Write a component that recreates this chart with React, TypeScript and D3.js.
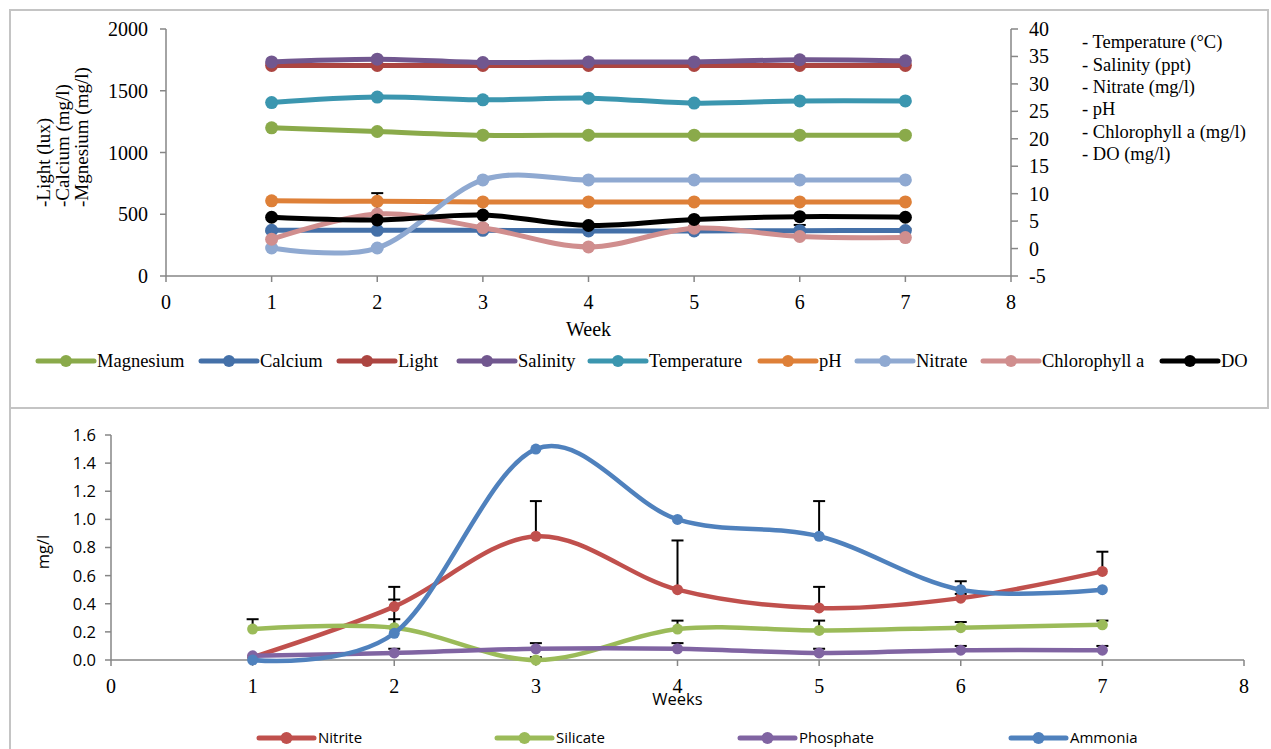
import React from "react";
import * as d3 from "d3";

// ---------- Top chart data ----------
const weeks = [1, 2, 3, 4, 5, 6, 7];
const magnesium = [1200, 1170, 1140, 1140, 1140, 1140, 1140];
const calcium = [370, 370, 370, 365, 365, 367, 368];
const light = [1705, 1705, 1705, 1705, 1705, 1705, 1705];
const salinity = [34.0, 34.5, 33.9, 34.0, 34.0, 34.4, 34.2];
const temperature = [26.6, 27.6, 27.1, 27.4, 26.5, 26.9, 26.9];
const ph = [8.7, 8.6, 8.5, 8.5, 8.5, 8.5, 8.5];
const nitrate = [0.1, 0.1, 12.5, 12.5, 12.5, 12.5, 12.5];
const chlorophyll = [1.7, 6.3, 3.8, 0.3, 3.7, 2.2, 2.0];
const chlorophyllErr = [1.4, 3.8, 0.4, 0.3, 0.3, 2.1, 1.6];
const dissolvedO2 = [5.7, 5.2, 6.1, 4.2, 5.3, 5.8, 5.7];

const topLeftTicks = [0, 500, 1000, 1500, 2000];
const topRightTicks = [-5, 0, 5, 10, 15, 20, 25, 30, 35, 40];
const xTicks = [0, 1, 2, 3, 4, 5, 6, 7, 8];
const rightNotes = [
  "- Temperature (\u00B0C)",
  "- Salinity (ppt)",
  "- Nitrate (mg/l)",
  "- pH",
  "- Chlorophyll a (mg/l)",
  "- DO (mg/l)",
];
const leftTitleLines = ["-Light (lux)", "-Calcium (mg/l)", "-Mgnesium (mg/l)"];

// ---------- Bottom chart data ----------
const nitrite = [0.02, 0.38, 0.88, 0.5, 0.37, 0.44, 0.63];
const nitriteErr = [0, 0.14, 0.25, 0.35, 0.15, 0.03, 0.14];
const silicate = [0.22, 0.23, 0.0, 0.22, 0.21, 0.23, 0.25];
const silicateErr = [0.07, 0.06, 0.02, 0.06, 0.07, 0.04, 0.03];
const phosphate = [0.03, 0.05, 0.08, 0.08, 0.05, 0.07, 0.07];
const phosphateErr = [0, 0.03, 0.04, 0.04, 0.03, 0.03, 0.03];
const ammonia = [0.0, 0.19, 1.5, 1.0, 0.88, 0.5, 0.5];
const ammoniaErr = [0, 0.24, 0, 0, 0.25, 0.06, 0];
const bottomYTicks = [0, 0.2, 0.4, 0.6, 0.8, 1.0, 1.2, 1.4, 1.6];

type Series = { name: string; values: number[]; color: string; axis: "L" | "R"; err?: number[] };

const topSeries: Series[] = [
  { name: "Magnesium", values: magnesium, color: "#8AAA4A", axis: "L" },
  { name: "Calcium", values: calcium, color: "#4470A8", axis: "L" },
  { name: "Light", values: light, color: "#AC4541", axis: "L" },
  { name: "Salinity", values: salinity, color: "#71578F", axis: "R" },
  { name: "Temperature", values: temperature, color: "#3B96AF", axis: "R" },
  { name: "pH", values: ph, color: "#DE8038", axis: "R" },
  { name: "Nitrate", values: nitrate, color: "#8FA9D1", axis: "R" },
  { name: "Chlorophyll a", values: chlorophyll, color: "#D08E8E", axis: "R", err: chlorophyllErr },
  { name: "DO", values: dissolvedO2, color: "#000000", axis: "R" },
];

const bottomSeries: Series[] = [
  { name: "Nitrite", values: nitrite, color: "#C0504D", axis: "L", err: nitriteErr },
  { name: "Silicate", values: silicate, color: "#9BBB59", axis: "L", err: silicateErr },
  { name: "Phosphate", values: phosphate, color: "#8064A2", axis: "L", err: phosphateErr },
  { name: "Ammonia", values: ammonia, color: "#4F81BD", axis: "L", err: ammoniaErr },
];

const SERIF = "'Liberation Serif', 'Times New Roman', serif";
const SANS = "'Open Sans', 'Liberation Sans', sans-serif";
const AXIS = "#868686";

export default function App() {
  // top scales
  const xT = d3.scaleLinear().domain([0, 8]).range([166, 1011]);
  const yL = d3.scaleLinear().domain([0, 2000]).range([276, 29]);
  const yR = d3.scaleLinear().domain([-5, 40]).range([276, 29]);
  // bottom scales
  const xB = d3.scaleLinear().domain([0, 8]).range([111, 1244]);
  const yB = d3.scaleLinear().domain([0, 1.6]).range([660, 435]);

  const curve = d3.curveCardinal.tension(0);

  const topLine = (s: Series) => {
    const ys = s.axis === "L" ? yL : yR;
    return d3
      .line<number>()
      .x((_, i) => xT(weeks[i]))
      .y((v) => ys(v))
      .curve(curve)(s.values) as string;
  };
  const botLine = (s: Series) =>
    d3
      .line<number>()
      .x((_, i) => xB(weeks[i]))
      .y((v) => yB(v))
      .curve(curve)(s.values) as string;

  const topLegendX = [38, 201, 339, 459, 590, 760, 857, 983, 1162];
  const botLegendX = [259, 497, 740, 1011];

  return (
    <svg
      width={1271}
      height={749}
      style={{ position: "absolute", left: 0, top: 0, background: "#fff" }}
    >
      {/* frames */}
      <rect x={10} y={10} width={1258} height={398} fill="none" stroke="#C4C4C4" strokeWidth={2} />
      <line x1={10} y1={408} x2={10} y2={749} stroke="#C4C4C4" strokeWidth={2} />

      {/* ===== TOP CHART ===== */}
      {/* axes */}
      <line x1={166} y1={29} x2={166} y2={276} stroke={AXIS} strokeWidth={1.5} />
      <line x1={166} y1={276} x2={1011} y2={276} stroke={AXIS} strokeWidth={1.5} />
      <line x1={1011} y1={29} x2={1011} y2={276} stroke={AXIS} strokeWidth={1.5} />
      {topLeftTicks.map((t) => (
        <g key={"tl" + t}>
          <line x1={160} x2={166} y1={yL(t)} y2={yL(t)} stroke={AXIS} strokeWidth={1.5} />
          <text x={148} y={yL(t)} dy="0.35em" textAnchor="end" fontFamily={SERIF} fontSize={20}>
            {t}
          </text>
        </g>
      ))}
      {topRightTicks.map((t) => (
        <g key={"tr" + t}>
          <line x1={1011} x2={1018} y1={yR(t)} y2={yR(t)} stroke={AXIS} strokeWidth={1.5} />
          <text x={1029} y={yR(t)} dy="0.35em" textAnchor="start" fontFamily={SERIF} fontSize={20}>
            {t}
          </text>
        </g>
      ))}
      {xTicks.map((t) => (
        <g key={"tx" + t}>
          <line x1={xT(t)} x2={xT(t)} y1={276} y2={282} stroke={AXIS} strokeWidth={1.5} />
          <text x={xT(t)} y={309} textAnchor="middle" fontFamily={SERIF} fontSize={20}>
            {t}
          </text>
        </g>
      ))}
      <text x={(xT(0) + xT(8)) / 2} y={336} textAnchor="middle" fontFamily={SERIF} fontSize={20}>
        Week
      </text>
      {leftTitleLines.map((l, i) => (
        <text
          key={l}
          transform={`translate(${50 + i * 19},207) rotate(-90)`}
          textAnchor="start"
          fontFamily={SERIF}
          fontSize={19}
        >
          {l}
        </text>
      ))}
      {rightNotes.map((n, i) => (
        <text key={n} x={1082} y={42 + i * 22.3} dy="0.35em" fontFamily={SERIF} fontSize={18.5}>
          {n}
        </text>
      ))}

      {/* error bars (top) */}
      {topSeries
        .filter((s) => s.err)
        .map((s) =>
          s.values.map((v, i) => {
            const ys = s.axis === "L" ? yL : yR;
            const x = xT(weeks[i]);
            const y0 = ys(v);
            const y1 = ys(v + (s.err as number[])[i]);
            return (
              <g key={s.name + "e" + i}>
                <line x1={x} x2={x} y1={y0} y2={y1} stroke="#000" strokeWidth={2} />
                <line x1={x - 6} x2={x + 6} y1={y1} y2={y1} stroke="#000" strokeWidth={2} />
              </g>
            );
          })
        )}

      {/* series (top) */}
      {topSeries.map((s) => {
        const ys = s.axis === "L" ? yL : yR;
        return (
          <g key={s.name}>
            <path d={topLine(s)} fill="none" stroke={s.color} strokeWidth={5} strokeLinecap="round" />
            {s.values.map((v, i) => (
              <circle key={i} cx={xT(weeks[i])} cy={ys(v)} r={6.5} fill={s.color} />
            ))}
          </g>
        );
      })}

      {/* legend (top) */}
      {topSeries.map((s, i) => {
        const x0 = topLegendX[i];
        return (
          <g key={"lg" + s.name}>
            <line x1={x0} x2={x0 + 56} y1={361} y2={361} stroke={s.color} strokeWidth={5} strokeLinecap="round" />
            <circle cx={x0 + 28} cy={361} r={6} fill={s.color} />
            <text x={x0 + 59} y={361} dy="0.35em" fontFamily={SERIF} fontSize={18.5}>
              {s.name}
            </text>
          </g>
        );
      })}

      {/* ===== BOTTOM CHART ===== */}
      <line x1={111} y1={435} x2={111} y2={660} stroke={AXIS} strokeWidth={1.5} />
      <line x1={111} y1={660} x2={1244} y2={660} stroke={AXIS} strokeWidth={1.5} />
      {bottomYTicks.map((t) => (
        <g key={"by" + t}>
          <line x1={105} x2={111} y1={yB(t)} y2={yB(t)} stroke={AXIS} strokeWidth={1.5} />
          <text x={96} y={yB(t)} dy="0.36em" textAnchor="end" fontFamily={SANS} fontSize={16.5}>
            {t.toFixed(1)}
          </text>
        </g>
      ))}
      {xTicks.map((t) => (
        <g key={"bx" + t}>
          <line x1={xB(t)} x2={xB(t)} y1={660} y2={666} stroke={AXIS} strokeWidth={1.5} />
          <text x={xB(t)} y={693} textAnchor="middle" fontFamily={SERIF} fontSize={20}>
            {t}
          </text>
        </g>
      ))}
      <text x={(xB(0) + xB(8)) / 2} y={705} textAnchor="middle" fontFamily={SANS} fontSize={16.5}>
        Weeks
      </text>
      <text
        transform={`translate(49,552) rotate(-90)`}
        textAnchor="middle"
        fontFamily={SANS}
        fontSize={16.5}
      >
        mg/l
      </text>

      {/* error bars (bottom) */}
      {bottomSeries.map((s) =>
        s.values.map((v, i) => {
          const e = (s.err as number[])[i];
          if (!e) return null;
          const x = xB(weeks[i]);
          const y0 = yB(v);
          const y1 = yB(v + e);
          return (
            <g key={s.name + "be" + i}>
              <line x1={x} x2={x} y1={y0} y2={y1} stroke="#000" strokeWidth={2} />
              <line x1={x - 6} x2={x + 6} y1={y1} y2={y1} stroke="#000" strokeWidth={2} />
            </g>
          );
        })
      )}

      {/* series (bottom) */}
      {bottomSeries.map((s) => (
        <g key={"b" + s.name}>
          <path d={botLine(s)} fill="none" stroke={s.color} strokeWidth={4.5} strokeLinecap="round" />
          {s.values.map((v, i) => (
            <circle key={i} cx={xB(weeks[i])} cy={yB(v)} r={5.5} fill={s.color} />
          ))}
        </g>
      ))}

      {/* legend (bottom) */}
      {bottomSeries.map((s, i) => {
        const x0 = botLegendX[i];
        return (
          <g key={"blg" + s.name}>
            <line x1={x0} x2={x0 + 55} y1={738} y2={738} stroke={s.color} strokeWidth={5} strokeLinecap="round" />
            <circle cx={x0 + 27.5} cy={738} r={6} fill={s.color} />
            <text x={x0 + 59} y={738} dy="0.36em" fontFamily={SANS} fontSize={15}>
              {s.name}
            </text>
          </g>
        );
      })}
    </svg>
  );
}
